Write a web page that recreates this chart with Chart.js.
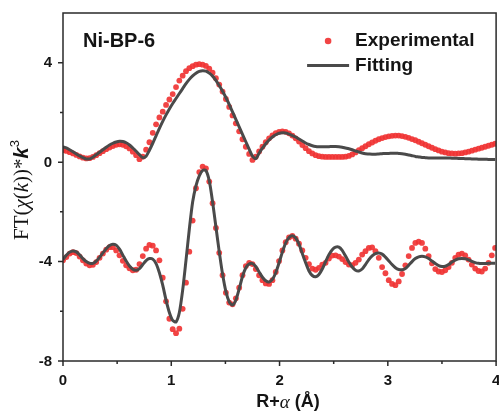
<!DOCTYPE html>
<html>
<head>
<meta charset="utf-8">
<script src="https://cdn.jsdelivr.net/npm/chart.js@4/dist/chart.umd.min.js"></script>
<style>
  html, body { margin: 0; padding: 0; background: #ffffff; }
  canvas { display: block; }
</style>
</head>
<body>
<canvas id="ftChart" width="499" height="412"></canvas>
<script>
// Sampling step of the R grid (Å)
const R_STEP = 0.0307;

// |FT| magnitude, experimental and fitted
const expMagnitude = [
  0.48, 0.45, 0.40, 0.35, 0.29, 0.23, 0.18, 0.15, 0.16, 0.21,
  0.28, 0.36, 0.44, 0.52, 0.59, 0.65, 0.70, 0.72, 0.70, 0.64,
  0.55, 0.42, 0.28, 0.12, 0.22, 0.50, 0.80, 1.18, 1.52, 1.80,
  2.03, 2.30, 2.52, 2.74, 3.02, 3.28, 3.48, 3.66, 3.78, 3.86,
  3.92, 3.94, 3.92, 3.87, 3.76, 3.60, 3.38, 3.12, 2.84, 2.54,
  2.22, 1.88, 1.56, 1.24, 0.92, 0.62, 0.33, 0.09, 0.22, 0.43,
  0.62, 0.80, 0.96, 1.08, 1.17, 1.22, 1.24, 1.22, 1.16, 1.07,
  0.96, 0.83, 0.69, 0.56, 0.44, 0.35, 0.28, 0.24, 0.22, 0.21,
  0.21, 0.21, 0.21, 0.21, 0.21, 0.22, 0.25, 0.31, 0.39, 0.48,
  0.56, 0.64, 0.72, 0.79, 0.86, 0.92, 0.97, 1.01, 1.04, 1.06,
  1.07, 1.07, 1.05, 1.02, 0.98, 0.93, 0.88, 0.82, 0.76, 0.70,
  0.64, 0.58, 0.52, 0.47, 0.42, 0.39, 0.36, 0.35, 0.34, 0.35,
  0.36, 0.39, 0.42, 0.46, 0.50, 0.54, 0.58, 0.62, 0.66, 0.70,
  0.74
];
const fitMagnitude = [
  0.62, 0.57, 0.50, 0.42, 0.33, 0.25, 0.18, 0.13, 0.13, 0.20,
  0.30, 0.40, 0.50, 0.60, 0.69, 0.76, 0.81, 0.84, 0.83, 0.78,
  0.69, 0.57, 0.44, 0.30, 0.18, 0.24, 0.48, 0.76, 1.06, 1.36,
  1.64, 1.90, 2.14, 2.36, 2.56, 2.76, 2.96, 3.16, 3.33, 3.47,
  3.58, 3.65, 3.68, 3.66, 3.58, 3.46, 3.29, 3.08, 2.85, 2.60,
  2.32, 2.02, 1.72, 1.42, 1.12, 0.82, 0.52, 0.24, 0.14, 0.36,
  0.56, 0.74, 0.89, 1.01, 1.10, 1.16, 1.18, 1.17, 1.13, 1.07,
  1.01, 0.93, 0.85, 0.77, 0.71, 0.66, 0.63, 0.62, 0.62, 0.62,
  0.62, 0.63, 0.63, 0.62, 0.60, 0.57, 0.54, 0.50, 0.45, 0.41,
  0.37, 0.34, 0.33, 0.32, 0.32, 0.33, 0.34, 0.35, 0.35, 0.36,
  0.36, 0.35, 0.34, 0.32, 0.29, 0.26, 0.23, 0.21, 0.19, 0.18,
  0.17, 0.17, 0.17, 0.17, 0.17, 0.17, 0.17, 0.16, 0.16, 0.15,
  0.15, 0.14, 0.14, 0.13, 0.13, 0.12, 0.12, 0.12, 0.11, 0.11,
  0.11
];

// Real part, shifted down by 4, experimental and fitted
const expReal = [
  -3.95, -3.82, -3.68, -3.62, -3.66, -3.80, -3.95, -4.08, -4.15, -4.13,
  -4.02, -3.85, -3.68, -3.52, -3.42, -3.42, -3.55, -3.75, -3.97, -4.15,
  -4.27, -4.35, -4.33, -4.10, -3.78, -3.48, -3.33, -3.36, -3.55, -3.95,
  -4.65, -5.60, -6.30, -6.72, -6.88, -6.70, -5.90, -4.85, -3.60, -2.35,
  -1.05, -0.40, -0.18, -0.25, -0.78, -1.65, -2.65, -3.65, -4.55, -5.25,
  -5.65, -5.72, -5.48, -5.05, -4.55, -4.18, -4.05, -4.10, -4.30, -4.55,
  -4.75, -4.88, -4.90, -4.75, -4.42, -3.98, -3.55, -3.22, -3.03, -2.97,
  -3.08, -3.28, -3.55, -3.85, -4.10, -4.28, -4.33, -4.25, -4.12, -4.05,
  -3.88, -3.76, -3.75, -3.80, -3.90, -4.02, -4.12, -4.14, -4.05, -3.92,
  -3.72, -3.58, -3.45, -3.43, -3.58, -3.85, -4.22, -4.47, -4.75, -4.90,
  -4.95, -4.80, -4.50, -4.15, -3.78, -3.45, -3.25, -3.20, -3.25, -3.48,
  -3.78, -4.07, -4.30, -4.40, -4.42, -4.35, -4.22, -4.05, -3.85, -3.72,
  -3.68, -3.75, -3.92, -4.12, -4.28, -4.38, -4.40, -4.28, -4.05, -3.75,
  -3.45
];
const fitReal = [
  -3.92, -3.75, -3.62, -3.57, -3.61, -3.73, -3.88, -4.00, -4.07, -4.07,
  -3.98, -3.83, -3.65, -3.48, -3.35, -3.30, -3.34, -3.50, -3.74, -3.98,
  -4.18, -4.31, -4.35, -4.28, -4.12, -3.96, -3.88, -3.90, -4.08, -4.45,
  -4.95, -5.55, -6.05, -6.37, -6.43, -6.05, -5.15, -3.95, -2.70, -1.60,
  -0.95, -0.55, -0.33, -0.34, -0.75, -1.60, -2.60, -3.60, -4.50, -5.20,
  -5.62, -5.75, -5.55, -5.10, -4.60, -4.25, -4.10, -4.08, -4.20, -4.42,
  -4.63, -4.77, -4.82, -4.72, -4.45, -4.05, -3.62, -3.25, -3.03, -2.96,
  -3.05, -3.30, -3.68, -4.05, -4.38, -4.56, -4.61, -4.52, -4.30, -4.00,
  -3.72, -3.52, -3.42, -3.42, -3.55, -3.78, -4.02, -4.22, -4.35, -4.38,
  -4.30, -4.12, -3.92, -3.77, -3.68, -3.66, -3.70, -3.82, -3.97, -4.12,
  -4.25, -4.32, -4.33, -4.28, -4.15, -4.00, -3.88, -3.81, -3.79, -3.81,
  -3.88, -3.98, -4.08, -4.16, -4.20, -4.19, -4.12, -4.02, -3.94, -3.89,
  -3.88, -3.89, -3.93, -3.99, -4.04, -4.07, -4.08, -4.08, -4.07, -4.07,
  -4.07
];

// Axis ticks
const xMajorTicks = [0, 1, 2, 3, 4];
const xMinorTicks = [0.5, 1.5, 2.5, 3.5];
const yMajorTicks = [-8, -4, 0, 4];
const yMinorTicks = [-6, -2, 2];

const seriesLabels = ['Experimental', 'Fitting'];
const sampleName = 'Ni-BP-6';

const RED = 'rgba(240, 52, 52, 0.92)';
const GRAY = '#4a4a4a';
const INK = '#141414';

const toPoints = vals => vals.map((v, i) => ({ x: +(i * R_STEP).toFixed(4), y: v }));

// Draws a row of differently styled text pieces, centred on (0, 0)
function drawRuns(ctx, runs) {
  let total = 0;
  runs.forEach(r => { ctx.font = r.font; r.w = ctx.measureText(r.text).width; total += r.w; });
  let x = -total / 2;
  ctx.textAlign = 'left';
  ctx.textBaseline = 'middle';
  runs.forEach(r => {
    ctx.font = r.font;
    ctx.fillText(r.text, x, r.dy || 0);
    x += r.w;
  });
}

const decorations = {
  id: 'decorations',
  afterDraw(chart) {
    const { ctx, chartArea: a, scales: { x, y } } = chart;
    ctx.save();
    ctx.fillStyle = INK;
    ctx.strokeStyle = '#2a2a2a';
    ctx.lineWidth = 1.5;

    // frame
    ctx.strokeRect(a.left, a.top, a.right - a.left, a.bottom - a.top);

    // tick marks (outward)
    ctx.beginPath();
    xMajorTicks.forEach(v => { const p = x.getPixelForValue(v); ctx.moveTo(p, a.bottom); ctx.lineTo(p, a.bottom + 5); });
    xMinorTicks.forEach(v => { const p = x.getPixelForValue(v); ctx.moveTo(p, a.bottom); ctx.lineTo(p, a.bottom + 3); });
    yMajorTicks.forEach(v => { const p = y.getPixelForValue(v); ctx.moveTo(a.left, p); ctx.lineTo(a.left - 5, p); });
    yMinorTicks.forEach(v => { const p = y.getPixelForValue(v); ctx.moveTo(a.left, p); ctx.lineTo(a.left - 3, p); });
    ctx.stroke();

    // tick labels
    ctx.font = 'bold 15px "Liberation Sans", Arial, sans-serif';
    ctx.textBaseline = 'middle';
    ctx.textAlign = 'center';
    xMajorTicks.forEach(v => ctx.fillText(String(v), x.getPixelForValue(v), a.bottom + 20));
    ctx.textAlign = 'right';
    yMajorTicks.forEach(v => ctx.fillText(String(v), a.left - 11, y.getPixelForValue(v) + 0.5));

    // x axis title
    ctx.save();
    ctx.translate(288, 402);
    drawRuns(ctx, [
      { text: 'R+', font: 'bold 18px "Liberation Sans", Arial, sans-serif' },
      { text: 'α', font: 'italic 19px "Liberation Serif", serif', dy: 1 },
      { text: ' (Å)', font: 'bold 18px "Liberation Sans", Arial, sans-serif' }
    ]);
    ctx.restore();

    // y axis title
    ctx.save();
    ctx.translate(22, 190);
    ctx.rotate(-Math.PI / 2);
    const serif = '21px "Liberation Serif", serif';
    drawRuns(ctx, [
      { text: 'FT(', font: serif },
      { text: 'χ', font: 'italic 21px "Liberation Serif", serif' },
      { text: '(', font: serif },
      { text: 'k', font: 'italic 21px "Liberation Serif", serif' },
      { text: '))*', font: serif },
      { text: 'k', font: 'bold italic 20px "Liberation Sans", Arial, sans-serif' },
      { text: '3', font: '13px "Liberation Sans", Arial, sans-serif', dy: -7 }
    ]);
    ctx.restore();

    // sample name
    ctx.textAlign = 'left';
    ctx.textBaseline = 'middle';
    ctx.font = 'bold 20px "Liberation Sans", Arial, sans-serif';
    ctx.fillText(sampleName, a.left + 20, a.top + 28);

    // legend
    const lx = a.right - 141;
    ctx.font = 'bold 19px "Liberation Sans", Arial, sans-serif';
    ctx.fillStyle = RED;
    ctx.beginPath();
    ctx.arc(a.right - 168, a.top + 28, 3.3, 0, Math.PI * 2);
    ctx.fill();
    ctx.fillStyle = INK;
    ctx.fillText(seriesLabels[0], lx, a.top + 28);
    ctx.strokeStyle = GRAY;
    ctx.lineWidth = 3;
    ctx.beginPath();
    ctx.moveTo(a.right - 189, a.top + 52.5);
    ctx.lineTo(a.right - 147, a.top + 52.5);
    ctx.stroke();
    ctx.fillText(seriesLabels[1], lx, a.top + 52.5);

    ctx.restore();
  }
};

const pointStyle = {
  type: 'scatter', showLine: false, pointRadius: 2.9, pointHoverRadius: 2.9,
  pointBorderWidth: 0, backgroundColor: RED, borderColor: RED, order: 2
};
const lineStyle = {
  type: 'line', showLine: true, pointRadius: 0, borderColor: GRAY,
  borderWidth: 3, tension: 0.25, fill: false, order: 1
};

new Chart(document.getElementById('ftChart'), {
  type: 'scatter',
  data: {
    datasets: [
      { label: seriesLabels[0], data: toPoints(expMagnitude), ...pointStyle },
      { label: seriesLabels[0], data: toPoints(expReal), ...pointStyle },
      { label: seriesLabels[1], data: toPoints(fitMagnitude), ...lineStyle },
      { label: seriesLabels[1], data: toPoints(fitReal), ...lineStyle }
    ]
  },
  options: {
    responsive: false,
    animation: false,
    devicePixelRatio: 1,
    layout: { padding: { left: 63, right: 2, top: 13, bottom: 51 } },
    plugins: { legend: { display: false }, tooltip: { enabled: false } },
    scales: {
      x: { type: 'linear', min: 0, max: 4, display: false },
      y: { type: 'linear', min: -8, max: 6, display: false }
    }
  },
  plugins: [decorations]
});
</script>
</body>
</html>
